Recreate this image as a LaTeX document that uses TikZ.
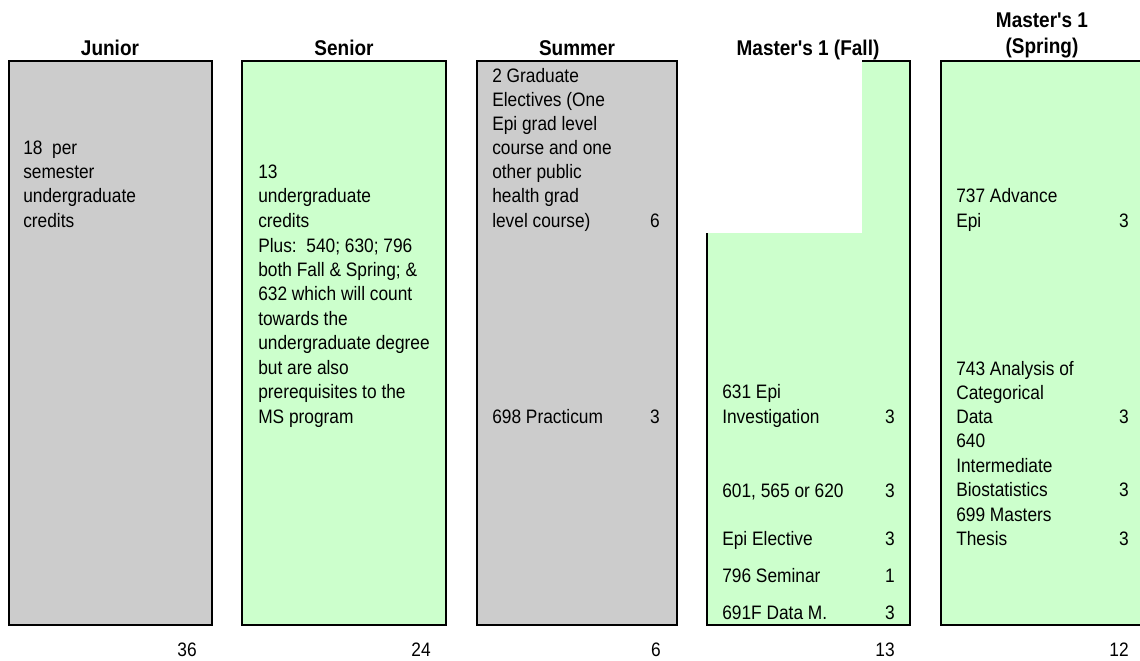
\documentclass[tikz,border=0pt]{standalone}
\usepackage{fontspec}
\setmainfont{Liberation Sans}[FakeStretch=0.89, Ligatures=TeXOff]
\definecolor{cgrey}{HTML}{CCCCCC}
\definecolor{cgreen}{HTML}{CCFFCC}
\begin{document}
\begin{tikzpicture}[x=0.75pt,y=-0.75pt,
  txt/.style={anchor=base west, inner sep=0pt, font=\fontsize{14.6pt}{18pt}\selectfont},
  num/.style={anchor=base east, inner sep=0pt, font=\fontsize{14.6pt}{18pt}\selectfont},
  ttl/.style={anchor=base, inner sep=0pt, font=\fontsize{16pt}{19pt}\selectfont\bfseries},
  border/.style={line width=1.7pt},
  boxgrey/.style={draw, border, fill=cgrey},
  boxgreen/.style={draw, border, fill=cgreen}]
\useasboundingbox (0,0) rectangle (1140,661);

% column boxes
\path[boxgrey] (9,61) rectangle (212,625);
\path[boxgreen] (242,61) rectangle (446,625);
\path[boxgrey] (477,61) rectangle (677,625);
\fill[cgreen] (862,61) -- (910,61) -- (910,625) -- (707,625) -- (707,233) -- (862,233) -- cycle;
\draw[border] (862,61) -- (910,61) -- (910,625) -- (707,625) -- (707,233);
\fill[cgreen] (941,61) rectangle (1145,625);
\draw[border] (1145,61) -- (941,61) -- (941,625) -- (1145,625);

% titles
\node[ttl] (tJunior) at (110,55) {Junior};
\node[ttl] (tSenior) at (344,55) {Senior};
\node[ttl] (tSummer) at (577,55) {Summer};
\node[ttl] (tFall) at (808,55) {Master's 1 (Fall)};
\node[ttl] (tSpring1) at (1042,27) {Master's 1};
\node[ttl] (tSpring2) at (1042,53) {(Spring)};

% Junior
\node[txt] (j1) at (23,154) {18\ \ per};
\node[txt] (j2) at (23,178) {semester};
\node[txt] (j3) at (23,202) {undergraduate};
\node[txt] (j4) at (23,227) {credits};

% Senior
\node[txt] (s1) at (258,178) {13};
\node[txt] (s2) at (258,202) {undergraduate};
\node[txt] (s3) at (258,227) {credits};
\node[txt] (s4) at (258,252) {Plus:\ \ 540; 630; 796};
\node[txt] (s5) at (258,276) {both Fall \& Spring; \&};
\node[txt] (s6) at (258,300) {632 which will count};
\node[txt] (s7) at (258,325) {towards the};
\node[txt] (s8) at (258,349) {undergraduate degree};
\node[txt] (s9) at (258,374) {but are also};
\node[txt] (s10) at (258,398) {prerequisites to the};
\node[txt] (s11) at (258,423) {MS program};

% Summer
\node[txt] (u1) at (492,82) {2 Graduate};
\node[txt] (u2) at (492,106) {Electives (One};
\node[txt] (u3) at (492,130) {Epi grad level};
\node[txt] (u4) at (492,154) {course and one};
\node[txt] (u5) at (492,178) {other public};
\node[txt] (u6) at (492,202) {health grad};
\node[txt] (u7) at (492,227) {level course)};
\node[num] (u7n) at (660,227) {6};
\node[txt] (u8) at (492,423) {698 Practicum};
\node[num] (u8n) at (660,423) {3};

% Master's 1 (Fall)
\node[txt] (f1) at (722,398) {631 Epi};
\node[txt] (f2) at (722,423) {Investigation};
\node[num] (f2n) at (895,423) {3};
\node[txt] (f3) at (722,497) {601, 565 or 620};
\node[num] (f3n) at (895,497) {3};
\node[txt] (f4) at (722,545) {Epi Elective};
\node[num] (f4n) at (895,545) {3};
\node[txt] (f5) at (722,582) {796 Seminar};
\node[num] (f5n) at (895,582) {1};
\node[txt] (f6) at (722,619) {691F Data M.};
\node[num] (f6n) at (895,619) {3};

% Master's 1 (Spring)
\node[txt] (p1) at (956,202) {737 Advance};
\node[txt] (p2) at (956,227) {Epi};
\node[num] (p2n) at (1129,227) {3};
\node[txt] (p3) at (956,375) {743 Analysis of};
\node[txt] (p4) at (956,399) {Categorical};
\node[txt] (p5) at (956,423) {Data};
\node[num] (p5n) at (1129,423) {3};
\node[txt] (p6) at (956,447) {640};
\node[txt] (p7) at (956,472) {Intermediate};
\node[txt] (p8) at (956,496) {Biostatistics};
\node[num] (p8n) at (1129,496) {3};
\node[txt] (p9) at (956,521) {699 Masters};
\node[txt] (p10) at (956,545) {Thesis};
\node[num] (p10n) at (1129,545) {3};

% totals
\node[num] (totJ) at (197,656) {36};
\node[num] (totS) at (431,656) {24};
\node[num] (totU) at (661,656) {6};
\node[num] (totF) at (895,656) {13};
\node[num] (totP) at (1129,656) {12};
\end{tikzpicture}
\end{document}
